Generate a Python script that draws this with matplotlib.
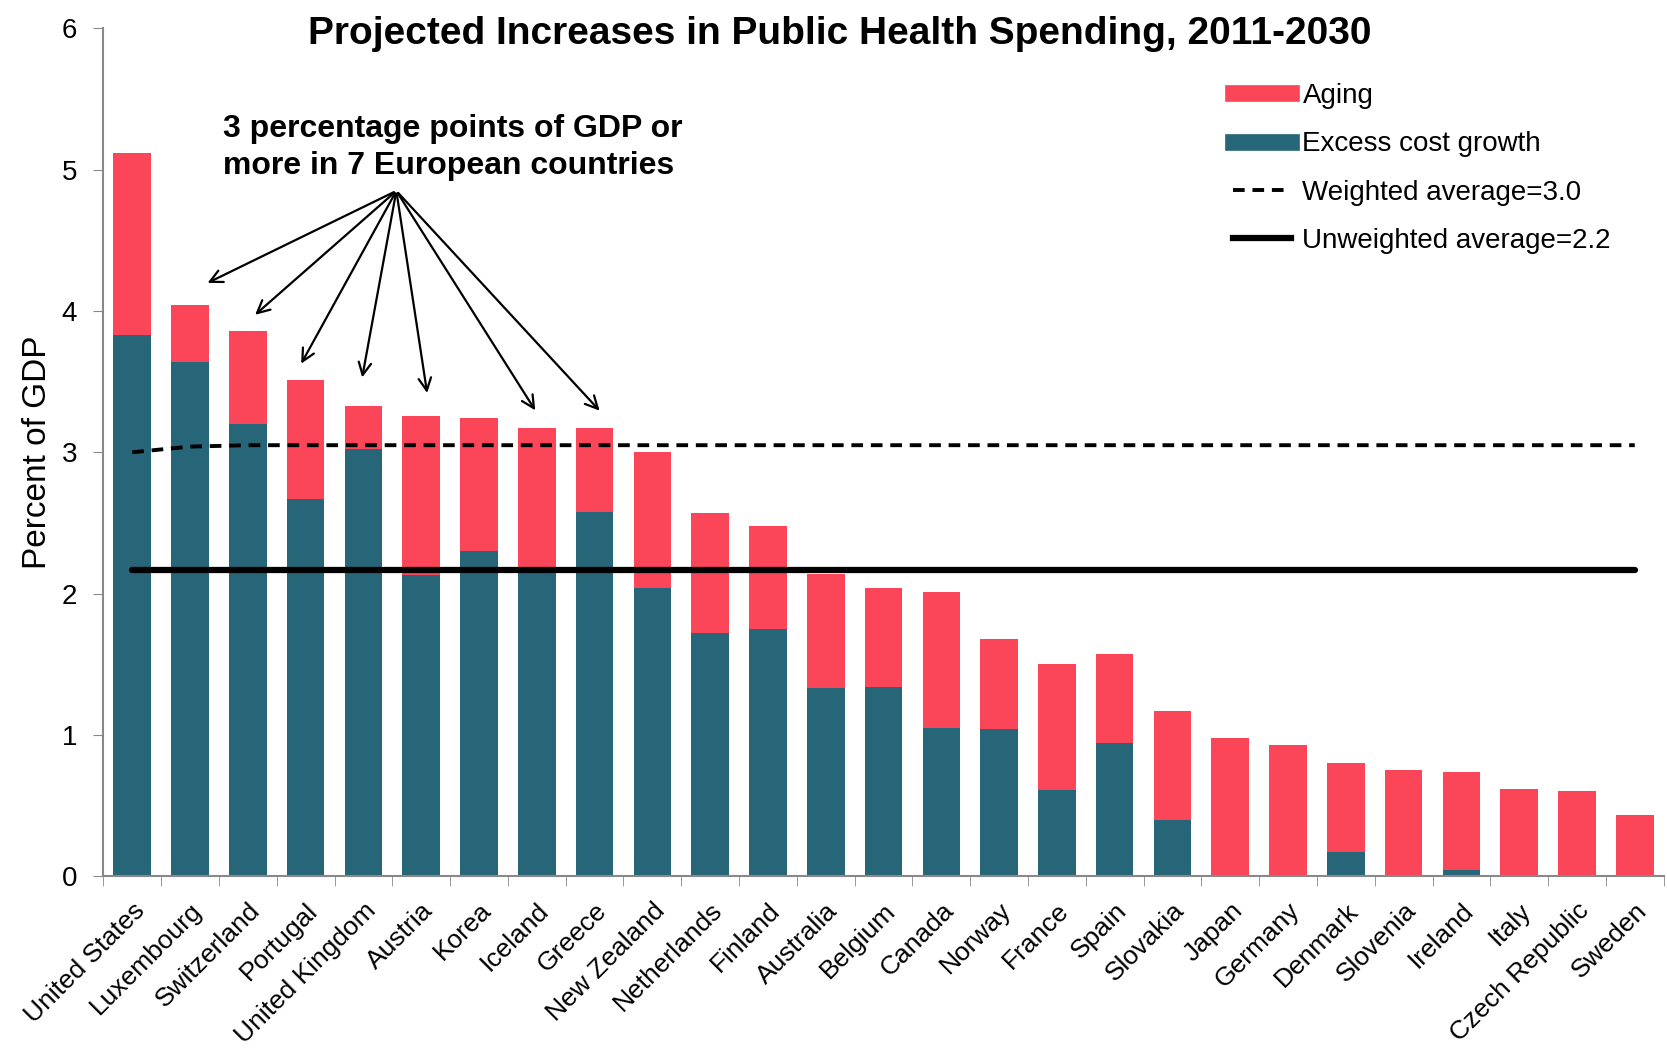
import matplotlib
matplotlib.use("Agg")
import matplotlib.pyplot as plt
from matplotlib.lines import Line2D

plt.rcParams['font.family'] = ['Liberation Sans', 'DejaVu Sans']

# data
countries = ["United States", "Luxembourg", "Switzerland", "Portugal", "United Kingdom",
             "Austria", "Korea", "Iceland", "Greece", "New Zealand", "Netherlands",
             "Finland", "Australia", "Belgium", "Canada", "Norway", "France", "Spain",
             "Slovakia", "Japan", "Germany", "Denmark", "Slovenia", "Ireland", "Italy",
             "Czech Republic", "Sweden"]
excess = [3.83, 3.64, 3.20, 2.67, 3.02, 2.13, 2.30, 2.17, 2.58, 2.04, 1.72,
          1.75, 1.33, 1.34, 1.05, 1.04, 0.61, 0.94, 0.40, 0.0, 0.0, 0.17,
          0.0, 0.04, 0.0, 0.0, 0.0]
total = [5.12, 4.04, 3.86, 3.51, 3.33, 3.26, 3.24, 3.17, 3.17, 3.00, 2.57,
         2.48, 2.14, 2.04, 2.01, 1.68, 1.50, 1.57, 1.17, 0.98, 0.93, 0.80,
         0.75, 0.74, 0.62, 0.60, 0.43]
aging = [t - e for t, e in zip(total, excess)]
weighted = [3.0, 3.04, 3.05, 3.05, 3.05, 3.05, 3.05, 3.05, 3.05, 3.05, 3.05,
            3.05, 3.05, 3.05, 3.05, 3.05, 3.05, 3.05, 3.05, 3.05, 3.05, 3.05,
            3.05, 3.05, 3.05, 3.05, 3.05]
unweighted = [2.17] * len(countries)

# arrow tips (x, y) for the 7 European countries
arrow_tips = [(1.26, 4.19), (2.09, 3.96), (2.90, 3.61), (3.97, 3.51),
              (5.11, 3.40), (7.00, 3.28), (8.12, 3.28)]
arrow_origin = (4.57, 4.85)

red = "#FA4658"
teal = "#276678"

fig = plt.figure(figsize=(16.67, 10.53), dpi=100)
ax = fig.add_axes([0.062, 0.168, 0.936, 0.805])

x = list(range(len(countries)))
ax.bar(x, excess, width=0.65, color=teal, zorder=2)
ax.bar(x, aging, width=0.65, bottom=excess, color=red, zorder=2)
ax.plot(x, weighted, color="black", lw=2.8, ls=(0, (3, 2)), zorder=3)
ax.plot(x, unweighted, color="black", lw=4.5, solid_capstyle="round", zorder=3)

ax.set_xlim(-0.5, len(countries) - 0.5)
ax.set_ylim(0, 6)
ax.set_yticks(range(7))
ax.tick_params(axis="y", labelsize=20, direction="out", length=7, color="#888888", pad=12)

# category labels centred on bars, ticks between categories
ax.set_xticks(x)
ax.set_xticklabels(countries, rotation=45, ha="right", rotation_mode="anchor", fontsize=19)
ax.tick_params(axis="x", length=0, pad=16)
ax.set_xticks([i + 0.5 for i in range(-1, len(countries))], minor=True)
ax.tick_params(axis="x", which="minor", direction="out", length=7, color="#888888")

for s in ["top", "right"]:
    ax.spines[s].set_visible(False)
for s in ["left", "bottom"]:
    ax.spines[s].set_color("#888888")
    ax.spines[s].set_linewidth(1.5)

ax.set_ylabel("Percent of GDP", fontsize=24, labelpad=6)

fig.text(0.504, 0.968, "Projected Increases in Public Health Spending, 2011-2030",
         ha="center", va="center", fontsize=28, fontweight="bold")

ax.text(1.57, 5.16, "3 percentage points of GDP or\nmore in 7 European countries",
        fontsize=23, fontweight="bold", ha="left", va="center", linespacing=1.3)

for tip in arrow_tips:
    ax.annotate("", xy=tip, xytext=arrow_origin,
                arrowprops=dict(arrowstyle="->,head_length=0.9,head_width=0.45",
                                color="black", lw=1.6))

handles = [Line2D([], [], color=red, lw=12),
           Line2D([], [], color=teal, lw=12),
           Line2D([], [], color="black", lw=2.8, ls=(0, (3, 2))),
           Line2D([], [], color="black", lw=4.5)]
labels = ["Aging", "Excess cost growth", "Weighted average=3.0", "Unweighted average=2.2"]
ax.legend(handles, labels, loc="upper left", bbox_to_anchor=(0.708, 0.965), frameon=False,
          fontsize=20, handlelength=2.1, handletextpad=0.4, labelspacing=0.8)

fig.savefig("out.png", dpi=100)
